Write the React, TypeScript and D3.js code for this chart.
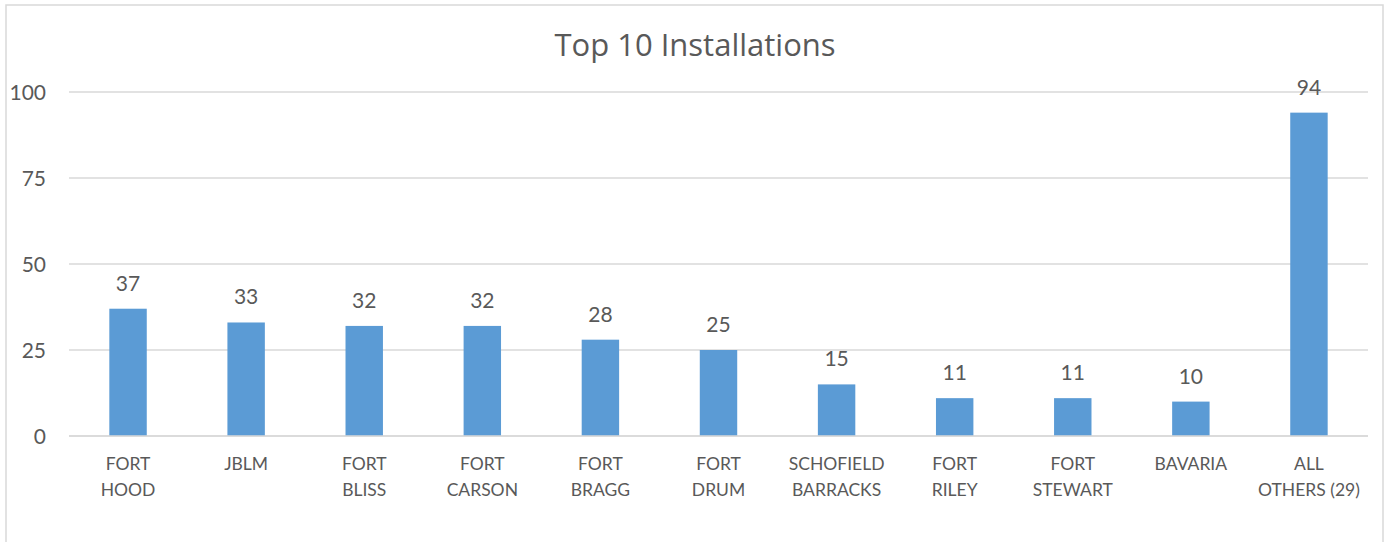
import React from "react";
import * as d3 from "d3";

const categories: string[][] = [
  ["FORT", "HOOD"],
  ["JBLM"],
  ["FORT", "BLISS"],
  ["FORT", "CARSON"],
  ["FORT", "BRAGG"],
  ["FORT", "DRUM"],
  ["SCHOFIELD", "BARRACKS"],
  ["FORT", "RILEY"],
  ["FORT", "STEWART"],
  ["BAVARIA"],
  ["ALL", "OTHERS (29)"],
];
const values: number[] = [37, 33, 32, 32, 28, 25, 15, 11, 11, 10, 94];
const yTicks: number[] = [0, 25, 50, 75, 100];
const title = "Top 10 Installations";

const W = 1388;
const H = 542;
const FONT = "Lato, 'Open Sans', sans-serif";
const TITLE_FONT = "'Open Sans', Lato, sans-serif";
const TEXT = "#595959";
const GRID = "#d9d9d9";
const BAR = "#5b9bd5";

export default function App() {
  const left = 69;
  const right = 1368;
  const top = 92;
  const bottom = 436;
  const keys = categories.map((_, i) => String(i));
  const x = d3.scaleBand<string>().domain(keys).range([left, right]).paddingInner(0.683).paddingOuter(0.683 / 2);
  const y = d3.scaleLinear().domain([0, 100]).range([bottom, top]);

  return (
    <svg
      width={W}
      height={H}
      style={{ position: "absolute", left: 0, top: 0, display: "block", background: "#fff" }}
    >
      <rect x={0} y={0} width={W} height={H} fill="#fff" />
      <rect x={6} y={5} width={1377} height={700} fill="none" stroke={GRID} strokeWidth={1.5} />
      <text x={695} y={56} textAnchor="middle" fontFamily={TITLE_FONT} fontSize={31} fill={TEXT}>
        {title}
      </text>
      {yTicks.map((t) => (
        <g key={t}>
          <line x1={left} x2={right} y1={y(t)} y2={y(t)} stroke={GRID} strokeWidth={1.5} />
          <text
            x={46}
            y={y(t)}
            dy="0.36em"
            textAnchor="end"
            fontFamily={FONT}
            fontSize={21}
            fill={TEXT}
          >
            {t}
          </text>
        </g>
      ))}
      {values.map((v, i) => {
        const bx = x(String(i))!;
        const bw = x.bandwidth();
        const cx = bx + bw / 2;
        return (
          <g key={i}>
            <rect x={bx} y={y(v)} width={bw} height={y(0) - y(v)} fill={BAR} />
            <text x={cx} y={y(v) - 18} textAnchor="middle" fontFamily={FONT} fontSize={21} fill={TEXT}>
              {v}
            </text>
            {categories[i].map((line, j) => (
              <text
                key={j}
                x={cx}
                y={470 + j * 26}
                textAnchor="middle"
                fontFamily={FONT}
                fontSize={17.5}
                fill={TEXT}
              >
                {line}
              </text>
            ))}
          </g>
        );
      })}
      <line x1={left} x2={right} y1={y(0)} y2={y(0)} stroke={GRID} strokeWidth={1.5} />
    </svg>
  );
}
